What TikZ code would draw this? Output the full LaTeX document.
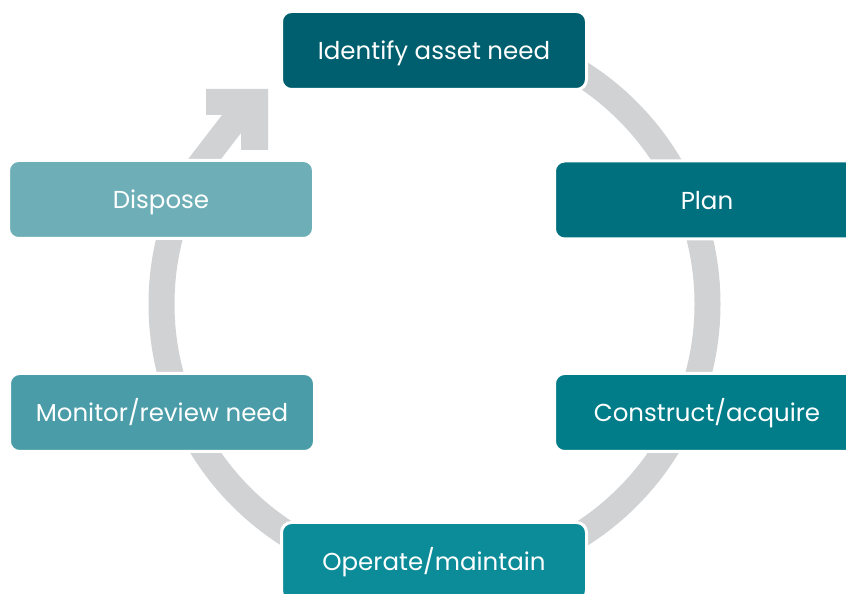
\documentclass[tikz,border=0pt]{standalone}
\usepackage{fontspec}
\setmainfont{Poppins}
\usepackage{tikz}
\usetikzlibrary{calc}
\definecolor{ringgray}{HTML}{D1D2D4}
\definecolor{tealA}{HTML}{005F6E}
\definecolor{tealB}{HTML}{00707F}
\definecolor{tealC}{HTML}{007D89}
\definecolor{tealD}{HTML}{0C8C98}
\definecolor{tealE}{HTML}{4A9DA8}
\definecolor{tealF}{HTML}{6EAFB7}
\tikzstyle{stage} = [draw=white, line width=3pt, rounded corners=10pt, minimum width=305pt, minimum height=78pt, text=white, font=\fontsize{24.5}{30}\selectfont, text height=24pt, text depth=5pt, inner sep=0pt]
\tikzstyle{ring} = [draw=ringgray, line width=26pt]

\begin{document}
\begin{tikzpicture}[x=1pt, y=1pt]
    \useasboundingbox (0,0) rectangle (846,594);
    \coordinate (hub) at (434.5,290);
    \coordinate (tip) at (250,494);
    % cycle ring, ends in the arrow at upper left
    \draw[ring] ($(hub)+(90:273)$) arc[start angle=90, end angle=-210, radius=273] -- (tip);
    \fill[ringgray] (206,505) -- (268,505) -- (268,444) -- (241,444) -- (241,479) -- (206,479) -- cycle;
    \node[stage, fill=tealA] (identify) at (434,543.5) {Identify asset need};
    \node[stage, fill=tealB] (plan) at (707,394) {Plan};
    \node[stage, fill=tealC] (construct) at (707,181.5) {Construct/acquire};
    \node[stage, fill=tealD] (operate) at (434,32.5) {Operate/maintain};
    \node[stage, fill=tealE] (monitor) at (162,181.5) {Monitor/review need};
    \node[stage, fill=tealF] (dispose) at (161,394.5) {Dispose};
\end{tikzpicture}
\end{document}
